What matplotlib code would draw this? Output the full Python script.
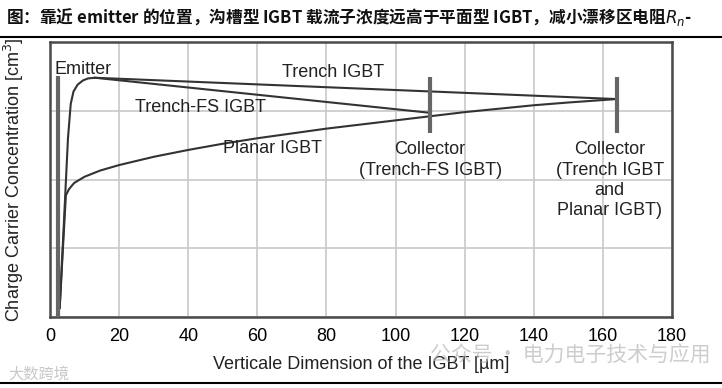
import matplotlib.pyplot as plt

plt.rcParams['font.family'] = ['Liberation Sans', 'Noto Sans CJK SC', 'DejaVu Sans']

# curve data (x in um, y in grid units 0..4)
trench_x = [2.8, 4.0, 5.2, 6.0, 6.8, 8.0, 9.5, 11.0, 13.0, 164.0]
trench_y = [0.13, 1.35, 2.6, 3.1, 3.28, 3.38, 3.44, 3.47, 3.48, 3.17]

fs_x = [13.0, 110.0]
fs_y = [3.48, 2.97]

planar_x = [2.8, 3.8, 4.6, 5.5, 7, 10, 14.5, 20, 30, 40, 50, 60, 70, 80, 90,
            100, 110, 120, 130, 140, 150, 164]
planar_y = [0.13, 1.05, 1.77, 1.86, 1.95, 2.04, 2.13, 2.21, 2.33, 2.43, 2.52, 2.6, 2.67, 2.74, 2.8,
            2.86, 2.92, 2.98, 3.03, 3.08, 3.12, 3.17]

emitter_x = 2.2
emitter_top = 3.5
collectors_x = [110.0, 164.0]
collector_span = [2.68, 3.49]

xticks = [0, 20, 40, 60, 80, 100, 120, 140, 160, 180]

fig = plt.figure(figsize=(7.22, 3.88), dpi=100)
ax = fig.add_axes([50 / 722, 1 - 317 / 388, 622 / 722, 275 / 388])

line_c = '#333333'
bar_c = '#666666'

ax.plot(trench_x, trench_y, color=line_c, lw=1.5, zorder=3)
ax.plot(fs_x, fs_y, color=line_c, lw=1.5, zorder=3)
ax.plot(planar_x, planar_y, color=line_c, lw=1.5, zorder=3)

ax.vlines(emitter_x, 0, emitter_top, color=bar_c, lw=3, zorder=4)
for cx in collectors_x:
    ax.vlines(cx, collector_span[0], collector_span[1], color=bar_c, lw=3, zorder=4)

ax.set_xlim(0, 180)
ax.set_ylim(0, 4)
ax.set_xticks(xticks)
ax.set_xticklabels([str(t) for t in xticks], fontsize=13)
ax.set_yticks([0, 1, 2, 3, 4])
ax.set_yticklabels([])
ax.tick_params(length=0, pad=8)
ax.grid(True, color='#c8c8c8', lw=1.2)
ax.set_axisbelow(True)
for s in ax.spines.values():
    s.set_color('#4a4a4a')
    s.set_linewidth(1.8)

ax.set_ylabel('Charge Carrier Concentration [cm$^3$]', fontsize=13, color='#222222', labelpad=9)
ax.set_xlabel('Verticale Dimension of the IGBT [µm]', fontsize=13, color='#222222', labelpad=8)

ts = dict(fontsize=13, color='#222222', ha='center', va='center')
ax.text(1.2, 3.6, 'Emitter', ha='left', va='center', fontsize=13, color='#222222')
ax.text(82, 3.55, 'Trench IGBT', **ts)
ax.text(43.5, 3.04, 'Trench-FS IGBT', **ts)
ax.text(64.5, 2.45, 'Planar IGBT', **ts)
ax.text(110, 2.28, 'Collector\n(Trench-FS IGBT)', linespacing=1.3, **ts)
ax.text(162, 1.99, 'Collector\n(Trench IGBT\nand\nPlanar IGBT)', linespacing=1.25, **ts)

fig.text(6 / 722, 1 - 17 / 388,
         '图：靠近 emitter 的位置，沟槽型 IGBT 载流子浓度远高于平面型 IGBT，减小漂移区电阻$R_n$-',
         fontsize=12, fontweight='bold', family=['Noto Sans CJK SC', 'DejaVu Sans'],
         ha='left', va='center', color='#111111')
fig.add_artist(plt.Line2D([0, 1], [1 - 37 / 388, 1 - 37 / 388], color='black', lw=1.5))
fig.add_artist(plt.Line2D([0, 1], [1 - 383 / 388, 1 - 383 / 388], color='black', lw=1.5))

# watermarks
fig.text(430 / 722, 1 - 356 / 388, '公众号 · 电力电子技术与应用', fontsize=15,
         family=['Noto Sans CJK SC'], color='#b8b8b8', ha='left', va='center', alpha=0.7)
fig.text(8 / 722, 1 - 374 / 388, '大数跨境', fontsize=11,
         family=['Noto Sans CJK SC'], color='#c8c8c8', ha='left', va='center')

fig.savefig('out.png', dpi=100)
